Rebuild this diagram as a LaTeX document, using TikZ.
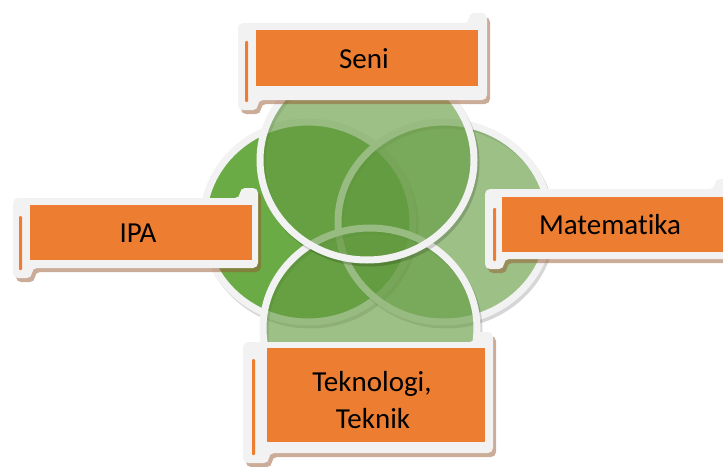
\documentclass[tikz,border=0pt]{standalone}
\usepackage{fontspec}
\setmainfont{Carlito}[Ligatures={NoCommon}]
\usetikzlibrary{shapes.geometric}
\definecolor{orangeF}{HTML}{ED7D31}
\definecolor{greyL}{HTML}{F2F2F2}
\definecolor{greenA}{RGB}{106,171,69}
\definecolor{greenB}{RGB}{100,155,65}
\definecolor{shadowC}{RGB}{150,90,50}
\newcommand\scrollbox[9]{%
  \fill[shadowC, fill opacity=0.5, rounded corners=5, shift={(3,4)}]
    (#1,#2) -- (#3-18,#2) -- (#3-18,#2-10) -- (#3,#2-10) -- (#3,#4) -- (#5+2,#4)
    -- (#5+2,#4+10) -- (#1,#4+10) -- cycle;
  \fill[greyL, rounded corners=5]
    (#1,#2) -- (#3-18,#2) -- (#3-18,#2-10) -- (#3,#2-10) -- (#3,#4) -- (#5+2,#4)
    -- (#5+2,#4+10) -- (#1,#4+10) -- cycle;
  \fill[orangeF] (#5,#6) rectangle (#7,#8);
  \fill[orangeF, rounded corners=1] (#9,#6+11) rectangle (#9+3,#4+2);
}
\tikzset{
  vennshadow/.style={ellipse, inner sep=0pt, draw=black, draw opacity=0.16, line width=7pt},
  vennA/.style={ellipse, inner sep=0pt, fill=greenA, draw=greyL, line width=7pt},
  vennB/.style={ellipse, inner sep=0pt, fill=greenB, fill opacity=0.63, draw=greyL, draw opacity=1, line width=7pt},
  lbl/.style={font=\fontsize{29}{36}\selectfont, inner sep=0pt, text=black, anchor=base},
}
\begin{document}
\begin{tikzpicture}[x=1pt,y=-1pt]
\useasboundingbox (0,0) rectangle (723,466);
% Venn shapes
\node[vennshadow, minimum width=210pt, minimum height=200pt] (lefts) at (310,225) {};
\node[vennA, minimum width=210pt, minimum height=200pt] (left) at (308,222) {};
\node[vennshadow, minimum width=212pt, minimum height=200pt] (rights) at (446,225) {};
\node[vennB, minimum width=212pt, minimum height=200pt] (right) at (444,222) {};
\node[vennshadow, minimum width=214pt, minimum height=200pt] (bottoms) at (372,331) {};
\node[vennB, minimum width=214pt, minimum height=200pt] (bottom) at (370,328) {};
\node[vennshadow, minimum width=214pt, minimum height=200pt] (tops) at (369,163) {};
\node[vennB, minimum width=214pt, minimum height=200pt] (top) at (367,160) {};
% label scrolls
\scrollbox{238}{23}{487}{100}{256}{30}{478}{86}{245}
\scrollbox{13}{198}{258}{268}{30}{205}{252}{260}{19}
\scrollbox{485}{189}{733}{259}{502}{197}{726}{252}{493}
\scrollbox{243}{342}{493}{453}{267}{348}{485}{442}{252}
% texts
\node[lbl] (seni) at (364,68) {Seni};
\node[lbl] (ipa) at (138,242) {IPA};
\node[lbl] (mat) at (610,234) {Matematika};
\node[lbl] (tek1) at (372,391) {Teknologi,};
\node[lbl] (tek2) at (373,428) {Teknik};
\end{tikzpicture}
\end{document}
